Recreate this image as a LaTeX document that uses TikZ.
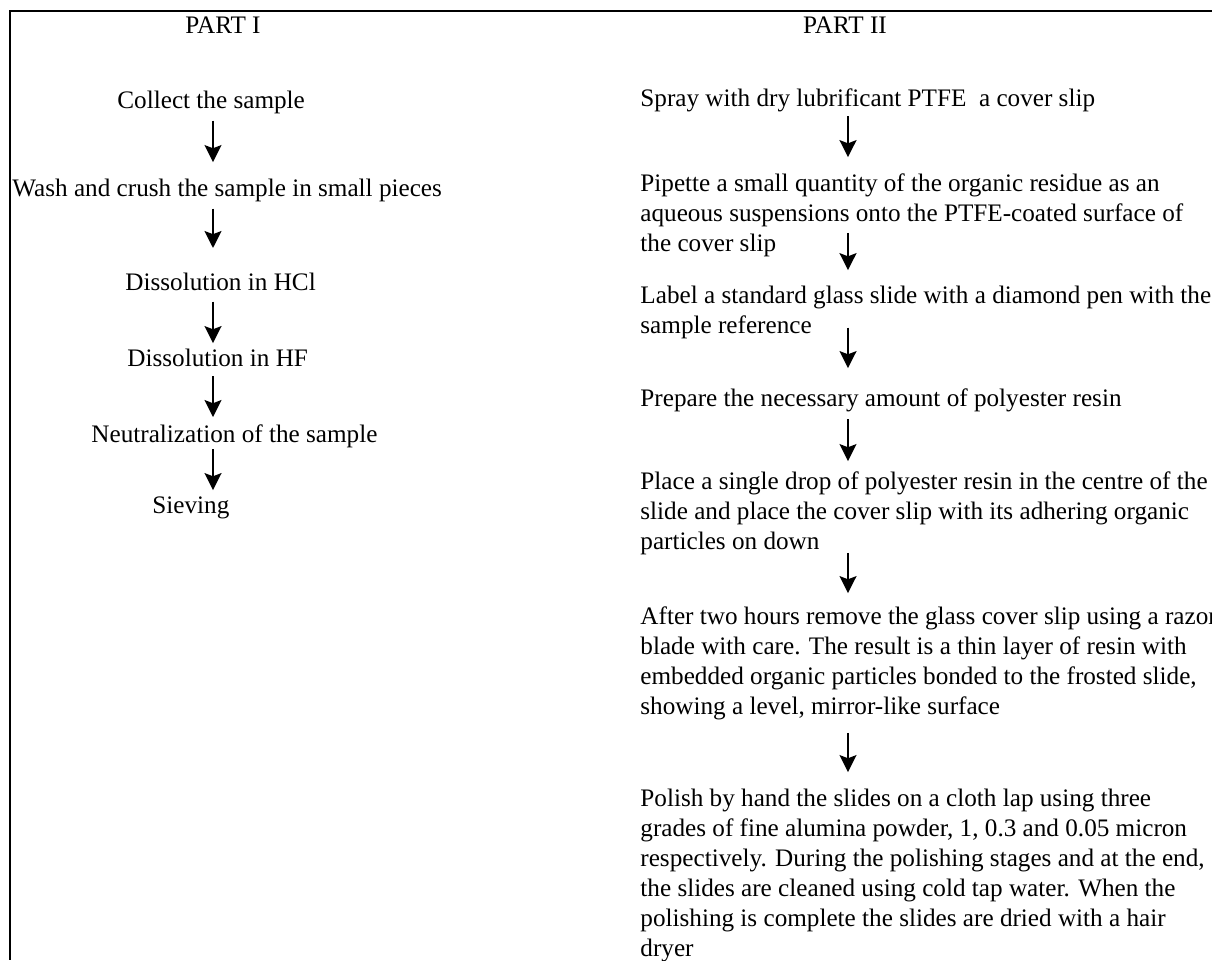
\documentclass[tikz,border=0pt]{standalone}
\usepackage{fontspec}
\setmainfont{Liberation Serif}
\usetikzlibrary{arrows.meta, positioning}

\begin{document}
\begin{tikzpicture}[
  x=0.4717pt, y=-0.4717pt,
  every node/.style={font=\fontsize{11.88}{14.15}\selectfont, inner sep=0pt},
  title/.style={anchor=north},
  stepbox/.style={anchor=north west, align=left},
  flow/.style={-{Stealth[length=8pt, width=8pt, inset=1.5pt]}, line width=0.95pt},
]
\useasboundingbox (0,0) rectangle (1212,960);
\clip (0,0) rectangle (1212,960);

% page frame
\draw[line width=0.95pt] (1212,11) -- (10,11) -- (10,960);

% column headings
\node[title] (part1) at (223,16) {PART I};
\node[title] (part2) at (845,16) {PART II};

% arrow columns
\coordinate (colA) at (213,0);
\coordinate (colB) at (848,0);

% Part I
\node[stepbox] (collect) at (117,91) {Collect the sample};
\node[stepbox] (wash) at (12,179) {Wash and crush the sample in small pieces};
\node[stepbox] (hcl) at (125,273) {Dissolution in HCl};
\node[stepbox] (hf) at (127,349) {Dissolution in HF};
\node[stepbox] (neutral) at (91,424) {Neutralization of the sample};
\node[stepbox] (sieve) at (152,496) {Sieving};

\draw[flow, shorten <=2.8pt, shorten >=8pt] (collect.south -| colA) -- (wash.north -| colA);
\draw[flow, shorten <=2.8pt, shorten >=11.8pt] (wash.south -| colA) -- (hcl.north -| colA);
\draw[flow, shorten <=4.7pt, shorten >=2.8pt] (hcl.south -| colA) -- (hf.north -| colA);
\draw[flow, shorten <=4.2pt, shorten >=3.3pt] (hf.south -| colA) -- (neutral.north -| colA);
\draw[flow, shorten <=0.5pt, shorten >=2.8pt] (neutral.south -| colA) -- (sieve.north -| colA);

% Part II
\node[stepbox] (spray) at (640,88) {Spray with dry lubrificant PTFE~ a cover slip};
\node[stepbox] (pipette) at (640,173) {Pipette a small quantity of the organic residue as an\\
  aqueous suspensions onto the PTFE-coated surface of\\
  the cover slip};
\node[stepbox] (glass) at (640,286) {Label a standard glass slide with a diamond pen with the\\
  sample reference};
\node[stepbox] (resin) at (640,388) {Prepare the necessary amount of polyester resin};
\node[stepbox] (drop) at (640,471) {Place a single drop of polyester resin in the centre of the\\
  slide and place the cover slip with its adhering organic\\
  particles on down};
\node[stepbox] (remove) at (640,606) {After two hours remove the glass cover slip using a razor\\
  blade with care. The result is a thin layer of resin with\\
  embedded organic particles bonded to the frosted slide,\\
  showing a level, mirror-like surface};
\node[stepbox] (polish) at (640,789) {Polish by hand the slides on a cloth lap using three\\
  grades of fine alumina powder, 1, 0.3 and 0.05 micron\\
  respectively. During the polishing stages and at the end,\\
  the slides are cleaned using cold tap water. When the\\
  polishing is complete the slides are dried with a hair\\
  dryer};

\draw[flow, shorten <=1.9pt, shorten >=7.5pt] (spray.south -| colB) -- (pipette.north -| colB);
\draw[flow, shorten >=7.5pt] ([yshift=11.3pt]pipette.south -| colB) -- (glass.north -| colB);
\draw[flow, shorten >=9.4pt] ([yshift=5.7pt]glass.south -| colB) -- (resin.north -| colB);
\draw[flow, shorten <=3.3pt, shorten >=4.7pt] (resin.south -| colB) -- (drop.north -| colB);
\draw[flow, shorten >=6.1pt] ([yshift=1pt]drop.south -| colB) -- (remove.north -| colB);
\draw[flow, shorten <=6.1pt, shorten >=8pt] (remove.south -| colB) -- (polish.north -| colB);

\end{tikzpicture}
\end{document}
